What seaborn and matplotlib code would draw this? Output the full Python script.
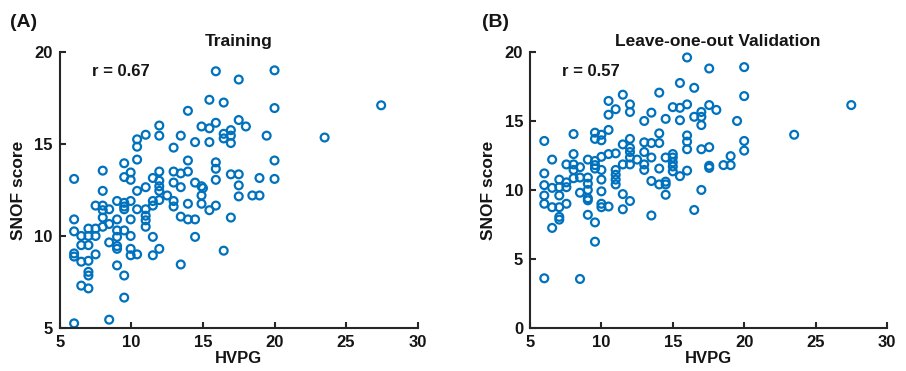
import matplotlib
matplotlib.use('Agg')
import matplotlib.pyplot as plt
import seaborn as sns

# Panel A: training fit (HVPG vs SNOF score)
hvpg_a = ([6.0] * 6 + [6.5] * 4 + [7.0] * 7 + [7.5] * 4 + [8.0] * 6 + [8.45] * 4
          + [9.0] * 7 + [9.5] * 8 + [9.95] * 7 + [10.4] * 6 + [11.0] * 6 + [11.5] * 5
          + [11.95] * 8 + [12.5] + [12.95] * 5 + [13.45] * 5 + [13.95] * 5 + [14.45] * 4
          + [14.9] * 4 + [15.0] + [15.45] * 4 + [15.9] * 6 + [16.45] * 4 + [16.95] * 5
          + [17.5] * 5 + [18.0] + [18.45] + [18.95] * 2 + [19.45] + [20.0] * 4
          + [23.5, 27.45])
score_train = [13.1, 10.9, 10.25, 9.05, 8.88, 5.25,
               10.0, 9.5, 8.6, 7.3,
               10.4, 10.0, 9.5, 8.65, 8.05, 7.85, 7.15,
               11.65, 10.4, 10.0, 9.0,
               13.55, 12.45, 11.65, 11.4, 11.0, 10.5,
               11.45, 10.65, 9.65, 5.45,
               11.9, 10.9, 10.3, 9.95, 9.45, 9.3, 8.4,
               13.95, 13.2, 11.8, 11.6, 11.45, 10.3, 7.85, 6.65,
               13.45, 13.05, 11.9, 10.9, 10.0, 9.3, 8.95,
               15.25, 14.85, 14.15, 12.45, 11.45, 9.0,
               15.5, 12.65, 11.45, 11.1, 10.85, 10.5,
               13.15, 11.9, 11.65, 9.95, 8.95,
               16.0, 15.45, 13.5, 13.0, 12.7, 12.45, 11.95, 9.3,
               12.2,
               14.8, 13.5, 12.9, 11.9, 11.6,
               15.45, 13.4, 12.65, 11.05, 8.45,
               16.8, 14.1, 13.5, 11.75, 10.9,
               15.1, 12.9, 10.9, 9.95,
               15.95, 12.7, 12.2, 11.75,
               12.6,
               17.4, 15.85, 15.1, 11.4,
               18.95, 16.15, 14.0, 13.65, 13.05, 11.65,
               17.25, 15.55, 15.3, 9.2,
               15.75, 15.45, 15.05, 13.35, 11.0,
               18.5, 16.3, 13.35, 12.75, 12.15,
               15.95,
               12.2,
               13.15, 12.2,
               15.45,
               19.0, 16.95, 14.1, 13.1,
               15.35, 17.1]

# Panel B: leave-one-out validation
hvpg_b = ([6.0] * 6 + [6.55] * 4 + [7.05] * 6 + [7.55] * 4 + [8.05] * 5 + [8.5] * 4
          + [9.05] * 7 + [9.55] * 7 + [10.0] * 8 + [10.5] * 5 + [11.0] * 6 + [11.5] * 5
          + [12.0] * 8 + [12.5] + [13.0] * 5 + [13.5] * 5 + [14.05] * 5 + [14.5] * 5
          + [15.0] * 6 + [15.5] * 4 + [16.0] * 6 + [16.5] * 3 + [17.0] * 5 + [17.55] * 5
          + [18.05] + [18.55] + [19.05] * 2 + [19.5] + [20.0] * 4 + [23.5, 27.5])
score_loo = [13.55, 11.2, 10.35, 9.6, 9.0, 3.6,
             12.2, 10.15, 8.75, 7.25,
             10.75, 10.2, 9.6, 8.75, 8.05, 7.85,
             11.85, 10.55, 10.2, 9.0,
             14.05, 12.6, 11.85, 11.45, 10.85,
             11.65, 10.9, 9.8, 3.55,
             12.2, 10.9, 10.45, 10.0, 9.4, 9.25, 8.2,
             14.15, 13.7, 12.1, 11.8, 11.55, 7.65, 6.25,
             14.0, 13.6, 12.4, 11.45, 10.75, 9.9, 9.0, 8.75,
             16.45, 15.45, 14.35, 12.6, 8.8,
             15.85, 12.65, 11.45, 11.1, 10.75, 10.4,
             16.9, 13.3, 11.85, 9.7, 8.6,
             16.2, 15.65, 13.7, 13.05, 12.75, 12.35, 11.85, 9.2,
             12.2,
             15.0, 13.45, 12.75, 11.85, 11.45,
             15.6, 13.4, 12.35, 10.65, 8.15,
             17.05, 14.1, 13.4, 11.55, 10.4,
             15.15, 12.35, 10.6, 10.4, 9.65,
             16.0, 12.6, 12.35, 12.0, 11.7, 11.35,
             17.75, 15.95, 15.05, 11.0,
             19.6, 16.2, 13.95, 13.5, 12.95, 11.4,
             17.4, 15.3, 8.55,
             15.65, 15.3, 14.7, 12.95, 10.0,
             18.8, 16.15, 13.1, 11.75, 11.6,
             15.8,
             11.8,
             12.45, 11.8,
             15.0,
             18.9, 16.8, 13.55, 12.85,
             14.0, 16.15]

panels = [
    ('(A)', 'Training', 'r = 0.67', hvpg_a, score_train, (5, 20), [5, 10, 15, 20]),
    ('(B)', 'Leave-one-out Validation', 'r = 0.57', hvpg_b, score_loo, (0, 20), [0, 5, 10, 15, 20]),
]

sns.set_style('ticks')
plt.rcParams['font.family'] = ['Liberation Sans', 'DejaVu Sans']
plt.rcParams['font.weight'] = 'bold'
plt.rcParams['axes.labelweight'] = 'bold'
plt.rcParams['axes.titleweight'] = 'bold'
ink = '#151515'
plt.rcParams['text.color'] = ink
plt.rcParams['axes.labelcolor'] = ink
plt.rcParams['xtick.labelcolor'] = ink
plt.rcParams['ytick.labelcolor'] = ink

fig = plt.figure(figsize=(9.06, 3.71), dpi=100)
rects = [[0.066, 0.116, 0.395, 0.744], [0.585, 0.116, 0.394, 0.744]]
label_x = [0.011, 0.532]
title_x = [0.5, 0.527]
blue = '#0072BD'

for rect, lx, tx, (tag, title, rtxt, xs, ys, ylim, yticks) in zip(rects, label_x, title_x, panels):
    ax = fig.add_axes(rect)
    sns.scatterplot(x=xs, y=ys, ax=ax, marker='o', s=32, facecolor='none',
                    edgecolor=blue, linewidth=1.6)
    ax.set_xlim(5, 30)
    ax.set_ylim(*ylim)
    ax.set_xticks([5, 10, 15, 20, 25, 30])
    ax.set_yticks(yticks)
    sns.despine(ax=ax)
    for sp in ('left', 'bottom'):
        ax.spines[sp].set_linewidth(1.5)
        ax.spines[sp].set_color('#262626')
    ax.tick_params(direction='in', length=4, width=1.5, color='#262626',
                   labelsize=12, pad=5)
    ax.set_xlabel('HVPG', fontsize=12, labelpad=1)
    ax.set_ylabel('SNOF score', fontsize=12.5, labelpad=6)
    ax.set_title(title, fontsize=12.5, pad=4, x=tx)
    ax.text(0.09, 0.93, rtxt, transform=ax.transAxes, fontsize=12,
            fontweight='bold', va='center', ha='left')
    fig.text(lx, 0.94, tag, fontsize=14, fontweight='bold', va='center', ha='left')

fig.savefig('out.png', dpi=100)
